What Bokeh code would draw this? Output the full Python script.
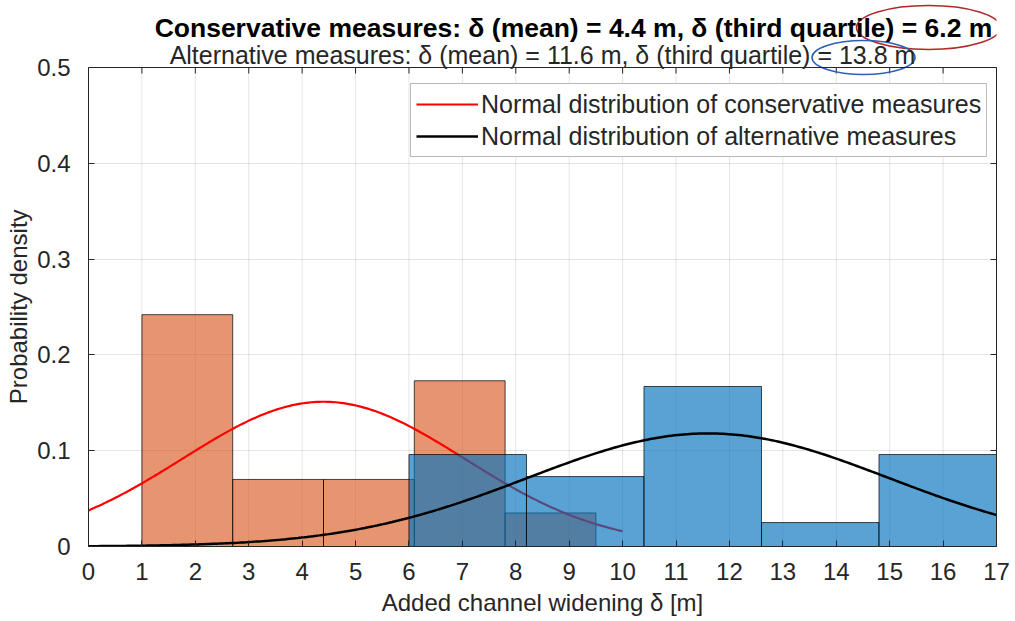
import numpy as np
from bokeh.plotting import figure
from bokeh.models import (Range1d, LinearAxis, Legend, LegendItem, FixedTicker,
                          Label, Span)
from bokeh.embed import file_html
from bokeh.resources import INLINE

# ---- data ----
cons_edges = [1.0, 2.7, 4.4, 6.1, 7.8, 9.5]
cons_density = [0.242, 0.070, 0.070, 0.173, 0.035]
alt_edges = [6.0, 8.2, 10.4, 12.6, 14.8, 17.0]
alt_density = [0.096, 0.073, 0.167, 0.025, 0.096]
cons_mean, cons_sd, cons_xmax = 4.4, 2.64, 10.0
alt_mean, alt_sd, alt_xmax = 11.6, 3.38, 17.0
x_ticks = list(range(0, 18))
y_ticks = [0, 0.1, 0.2, 0.3, 0.4, 0.5]
title1 = "Conservative measures: \u03b4 (mean) = 4.4 m, \u03b4 (third quartile) = 6.2 m"
title2 = "Alternative measures: \u03b4 (mean) = 11.6 m, \u03b4 (third quartile) = 13.8 m"
legend_labels = ["Normal distribution of conservative measures",
                 "Normal distribution of alternative measures"]
xlabel = "Added channel widening \u03b4 [m]"
ylabel = "Probability density"

FONT = "Liberation Sans"
AX = "#262626"
X0, X1, Y0, Y1 = 0, 17, 0, 0.5
FW, AXES_H, TOP_PX = 908, 479, 67          # frame width, axes height, title band (px)
FH = AXES_H + TOP_PX
Y_TOP = Y1 * FH / AXES_H                      # frame extends above the axes for titles


def normal_pdf(x, m, s):
    return np.exp(-0.5 * ((x - m) / s) ** 2) / (s * np.sqrt(2 * np.pi))


def px_x(px):   # horizontal pixel offset from the frame's left edge -> data x
    return X0 + px * (X1 - X0) / FW


def px_y(px):   # pixel offset above the axes' top edge -> data y
    return Y1 + px * Y1 / AXES_H


p = figure(frame_width=FW, frame_height=FH, output_backend="svg",
           toolbar_location=None, x_range=Range1d(X0, X1), y_range=Range1d(Y0, Y_TOP),
           min_border_left=88, min_border_right=14, min_border_top=0,
           min_border_bottom=0, background_fill_color="white",
           border_fill_color="white")
p.outline_line_color = None

for ax in (p.xaxis[0], p.yaxis[0]):
    ax.major_label_text_font = FONT
    ax.major_label_text_font_size = "24px"
    ax.major_label_text_color = AX
    ax.axis_label_text_font = FONT
    ax.axis_label_text_font_size = "24px"
    ax.axis_label_text_font_style = "normal"
    ax.axis_label_text_color = AX
    ax.axis_line_color = AX
    ax.major_tick_line_color = AX
    ax.major_tick_in = 6
    ax.major_tick_out = 0
    ax.minor_tick_line_color = None
p.xaxis.ticker = FixedTicker(ticks=x_ticks)
p.yaxis.ticker = FixedTicker(ticks=y_ticks)
p.yaxis.bounds = (Y0, Y1)
p.yaxis.formatter.use_scientific = False
p.xaxis.axis_label = xlabel
# the axis label is centred on the whole frame (which includes the title band);
# trailing no-break spaces move the visible words down to the centre of the axes
p.yaxis.axis_label = ylabel + "\u00a0" * 10
p.xaxis.major_label_standoff = 16
p.yaxis.major_label_standoff = 18
p.xaxis.axis_label_standoff = 6
p.yaxis.axis_label_standoff = 2

right_ax = LinearAxis(ticker=FixedTicker(ticks=y_ticks), bounds=(Y0, Y1),
                      major_label_overrides={v: "" for v in y_ticks},
                      major_tick_in=6, major_tick_out=0, minor_tick_line_color=None,
                      axis_line_color=AX, major_tick_line_color=AX,
                      major_label_standoff=0)
p.add_layout(right_ax, "right")

# grid: horizontal from the axis grid, vertical lines limited to the axes box
p.xgrid.visible = False
p.ygrid.ticker = FixedTicker(ticks=y_ticks)
p.ygrid.grid_line_color = AX
p.ygrid.grid_line_alpha = 0.12
p.segment(x0=x_ticks, y0=[Y0] * len(x_ticks), x1=x_ticks, y1=[Y1] * len(x_ticks),
          line_color=AX, line_alpha=0.12, line_width=1)

# top edge of the box with inward ticks
p.add_layout(Span(location=Y1, dimension="width", line_color=AX, line_width=1))
p.ray(x=x_ticks, y=[Y1] * len(x_ticks), length=6, length_units="screen",
      angle=-np.pi / 2, line_color=AX, line_width=1)

# histograms and fitted normal curves
p.quad(left=cons_edges[:-1], right=cons_edges[1:], bottom=0, top=cons_density,
       fill_color="#D95319", fill_alpha=0.62, line_color="#000000", line_alpha=0.7,
       line_width=1)
xc = np.linspace(0, cons_xmax, 200)
r_red = p.line(xc, normal_pdf(xc, cons_mean, cons_sd), line_color="#FF0000",
               line_width=2.2)

p.quad(left=alt_edges[:-1], right=alt_edges[1:], bottom=0, top=alt_density,
       fill_color="#0072BD", fill_alpha=0.65, line_color="#000000", line_alpha=0.7,
       line_width=1)
xa = np.linspace(0, alt_xmax, 300)
r_blk = p.line(xa, normal_pdf(xa, alt_mean, alt_sd), line_color="#000000",
               line_width=2.5)

legend = Legend(items=[LegendItem(label=legend_labels[0], renderers=[r_red]),
                       LegendItem(label=legend_labels[1], renderers=[r_blk])],
                location=(322, 389), margin=0, padding=5, spacing=2,
                glyph_width=62, glyph_height=30, label_height=30,
                label_text_font=FONT, label_text_font_size="25px",
                label_text_color=AX, label_standoff=3,
                border_line_color="#777777", border_line_width=1,
                background_fill_color="white", background_fill_alpha=1)
p.add_layout(legend)

# two-line title in the band above the axes
p.add_layout(Label(x=px_x(485), y=px_y(40), text=title1, text_align="center",
                   text_baseline="middle", text_font=FONT, text_font_size="26.5px",
                   text_font_style="bold", text_color="#000000"))
p.add_layout(Label(x=px_x(454), y=px_y(13), text=title2, text_align="center",
                   text_baseline="middle", text_font=FONT, text_font_size="25px",
                   text_color=AX))
# hand-drawn highlight ellipses
p.ellipse(x=[px_x(840)], y=[px_y(40)], width=144, height=44, width_units="screen",
          height_units="screen", fill_alpha=0, line_color="#B02828", line_width=1.6)
p.ellipse(x=[px_x(775)], y=[px_y(10)], width=103, height=34, width_units="screen",
          height_units="screen", fill_alpha=0, line_color="#2F5FB8", line_width=1.6)

open("out.html", "w").write(file_html(p, INLINE))
